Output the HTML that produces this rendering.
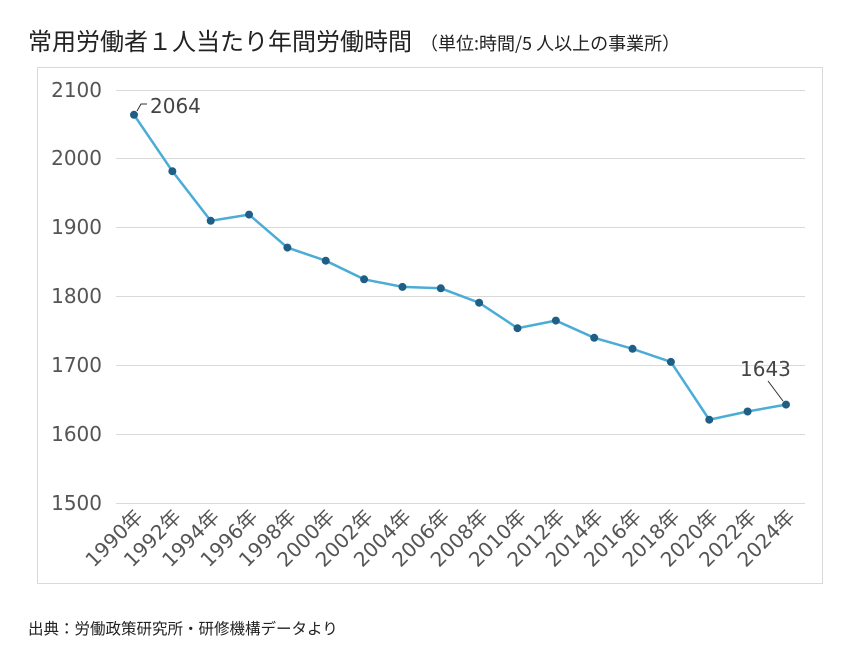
<!DOCTYPE html><html><head><meta charset="utf-8"><style>body{margin:0;background:#fff}svg{display:block}text{font-family:"DejaVu Sans","Noto Sans CJK JP",sans-serif}</style></head><body>
<svg width="848" height="662" xmlns="http://www.w3.org/2000/svg">
<text x="28" y="50" font-size="24" fill="#222" style='font-family:"Noto Sans CJK JP",sans-serif'>常用労働者１人当たり年間労働時間<tspan font-size="18" dx="8">（単位:時間/5 人以上の事業所）</tspan></text>
<rect x="37.5" y="67.5" width="785" height="516" fill="none" stroke="#d9d9d9"/>
<g stroke="#d9d9d9" stroke-width="1">
<line x1="116" x2="805" y1="90.5" y2="90.5"/><line x1="116" x2="805" y1="158.5" y2="158.5"/><line x1="116" x2="805" y1="227.5" y2="227.5"/><line x1="116" x2="805" y1="296.5" y2="296.5"/><line x1="116" x2="805" y1="365.5" y2="365.5"/><line x1="116" x2="805" y1="434.5" y2="434.5"/><line x1="116" x2="805" y1="503.5" y2="503.5"/></g>
<g font-size="20" fill="#555" text-anchor="end">
<text x="102" y="97">2100</text><text x="102" y="165">2000</text><text x="102" y="234">1900</text><text x="102" y="303">1800</text><text x="102" y="372">1700</text><text x="102" y="441">1600</text><text x="102" y="510">1500</text></g>
<polyline fill="none" stroke="#4bacd6" stroke-width="2.5" points="134,114.8 172.35,171.2 210.7,220.8 249.05,214.6 287.4,247.6 325.75,260.7 364.1,279.3 402.45,286.9 440.8,288.3 479.15,302.7 517.5,328.2 555.85,320.6 594.2,337.8 632.55,348.8 670.9,361.9 709.25,419.7 747.6,411.5 786,404.6"/>
<g fill="#1f5f85">
<circle cx="134" cy="114.8" r="4"/><circle cx="172.35" cy="171.2" r="4"/><circle cx="210.7" cy="220.8" r="4"/><circle cx="249.05" cy="214.6" r="4"/><circle cx="287.4" cy="247.6" r="4"/><circle cx="325.75" cy="260.7" r="4"/><circle cx="364.1" cy="279.3" r="4"/><circle cx="402.45" cy="286.9" r="4"/><circle cx="440.8" cy="288.3" r="4"/><circle cx="479.15" cy="302.7" r="4"/><circle cx="517.5" cy="328.2" r="4"/><circle cx="555.85" cy="320.6" r="4"/><circle cx="594.2" cy="337.8" r="4"/><circle cx="632.55" cy="348.8" r="4"/><circle cx="670.9" cy="361.9" r="4"/><circle cx="709.25" cy="419.7" r="4"/><circle cx="747.6" cy="411.5" r="4"/><circle cx="786" cy="404.6" r="4"/></g>
<polyline points="137,111 141,104 147,104" fill="none" stroke="#333" stroke-width="1"/>
<text x="150" y="113" font-size="20" fill="#444">2064</text>
<line x1="783" y1="401" x2="768" y2="381" stroke="#333" stroke-width="1"/>
<text x="740" y="376" font-size="20" fill="#444">1643</text>
<g font-size="20" fill="#555" text-anchor="end">
<text transform="translate(144,518) rotate(-45)">1990年</text><text transform="translate(182.35,518) rotate(-45)">1992年</text><text transform="translate(220.7,518) rotate(-45)">1994年</text><text transform="translate(259.05,518) rotate(-45)">1996年</text><text transform="translate(297.4,518) rotate(-45)">1998年</text><text transform="translate(335.75,518) rotate(-45)">2000年</text><text transform="translate(374.1,518) rotate(-45)">2002年</text><text transform="translate(412.45,518) rotate(-45)">2004年</text><text transform="translate(450.8,518) rotate(-45)">2006年</text><text transform="translate(489.15,518) rotate(-45)">2008年</text><text transform="translate(527.5,518) rotate(-45)">2010年</text><text transform="translate(565.85,518) rotate(-45)">2012年</text><text transform="translate(604.2,518) rotate(-45)">2014年</text><text transform="translate(642.55,518) rotate(-45)">2016年</text><text transform="translate(680.9,518) rotate(-45)">2018年</text><text transform="translate(719.25,518) rotate(-45)">2020年</text><text transform="translate(757.6,518) rotate(-45)">2022年</text><text transform="translate(796,518) rotate(-45)">2024年</text></g>
<text x="28" y="634" font-size="15.5" fill="#222" style='font-family:"Noto Sans CJK JP",sans-serif'>出典：労働政策研究所・研修機構データより</text>
</svg></body></html>
